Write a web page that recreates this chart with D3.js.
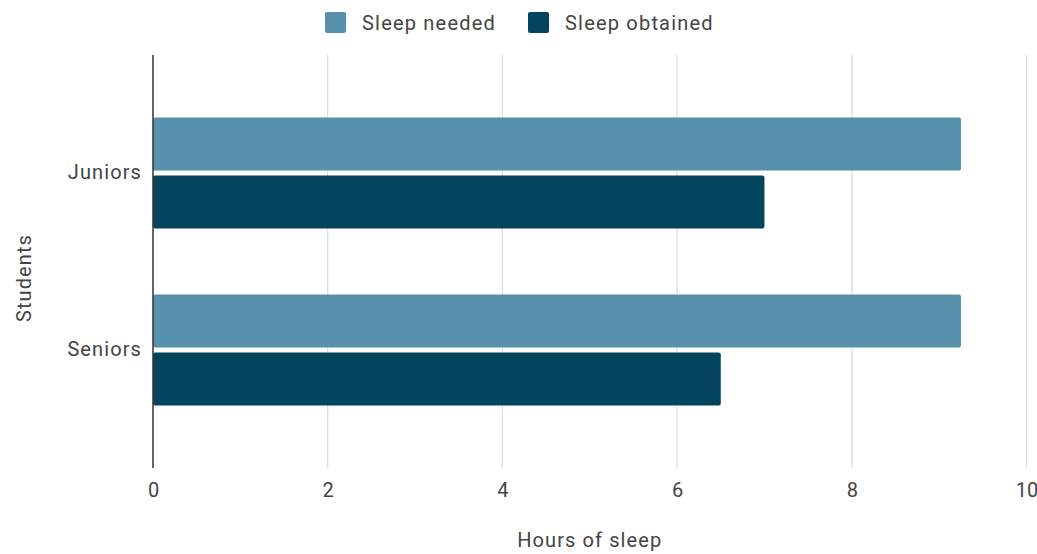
<!DOCTYPE html>
<html><head><meta charset="utf-8">
<script src="https://cdn.jsdelivr.net/npm/d3@7"></script>
<style>body{margin:0;background:#fff}svg{display:block;font-family:Roboto,sans-serif}</style>
</head><body>
<svg id="c" width="1037" height="554"></svg>
<script>
const categories = ["Juniors", "Seniors"];
const seriesNames = ["Sleep needed", "Sleep obtained"];
const sleepNeeded = [9.25, 9.25];
const sleepObtained = [7, 6.5];
const xTicks = [0, 2, 4, 6, 8, 10];
const colors = ["#5891ad", "#03445f"];

const FS = 20, LS = "1.1px", TXT = "#444";
const svg = d3.select("#c");
const mLeft = 153, mRight = 1026.5, mTop = 55, mBottom = 468;
const x = d3.scaleLinear().domain([0, 10]).range([mLeft, mRight]);
const y = d3.scaleBand().domain(categories).range([mTop, mBottom]).paddingInner(0.373).paddingOuter(0.353);
const y1 = d3.scaleBand().domain(seriesNames).range([0, y.bandwidth()]).paddingInner(0.086);

// gridlines
svg.append("g").selectAll("line").data(xTicks.filter(d => d > 0)).join("line")
  .attr("x1", d => x(d)).attr("x2", d => x(d)).attr("y1", mTop).attr("y2", mBottom)
  .attr("stroke", "#dedede").attr("stroke-width", 1.3);

const rows = categories.map((c, i) => ({c, vals: [sleepNeeded[i], sleepObtained[i]]}));
const g = svg.append("g");
rows.forEach(r => {
  r.vals.forEach((v, j) => {
    g.append("rect")
      .attr("x", x(0)).attr("y", y(r.c) + y1(seriesNames[j]))
      .attr("width", x(v) - x(0)).attr("height", y1.bandwidth())
      .attr("rx", 2).attr("fill", colors[j]);
  });
});

// axis line
svg.append("line").attr("x1", x(0)).attr("x2", x(0)).attr("y1", mTop).attr("y2", mBottom)
  .attr("stroke", "#333").attr("stroke-width", 1.5);

// x tick labels
const xAxis = d3.axisBottom(x).tickValues(xTicks).tickSize(0).tickPadding(0);
const xa = svg.append("g").attr("transform", `translate(0,${mBottom})`).call(xAxis);
xa.select(".domain").remove();
xa.selectAll("text").attr("font-size", FS).attr("fill", TXT).attr("font-family", "Roboto, sans-serif")
  .attr("dy", null).attr("y", 29);

// y labels
const yAxis = d3.axisLeft(y).tickSize(0).tickPadding(11);
const ya = svg.append("g").attr("transform", `translate(${mLeft},0)`).call(yAxis);
ya.select(".domain").remove();
ya.selectAll("text").attr("font-size", FS).attr("fill", TXT).attr("font-family", "Roboto, sans-serif")
  .style("letter-spacing", LS);

// axis titles
svg.append("text").attr("x", (mLeft + mRight) / 2).attr("y", 547).attr("text-anchor", "middle")
  .attr("font-size", FS).attr("fill", TXT).style("letter-spacing", LS).text("Hours of sleep");
svg.append("text").attr("transform", "translate(31,278) rotate(-90)").attr("text-anchor", "middle")
  .attr("font-size", FS).attr("fill", TXT).style("letter-spacing", LS).text("Students");

// legend
const lg = svg.append("g");
const legendX = [325, 528];
seriesNames.forEach((s, i) => {
  lg.append("rect").attr("x", legendX[i]).attr("y", 12).attr("width", 21).attr("height", 21).attr("rx", 2).attr("fill", colors[i]);
  lg.append("text").attr("x", legendX[i] + 37).attr("y", 30).attr("font-size", FS).attr("fill", TXT)
    .style("letter-spacing", "1.2px").text(s);
});
</script>
</body></html>
